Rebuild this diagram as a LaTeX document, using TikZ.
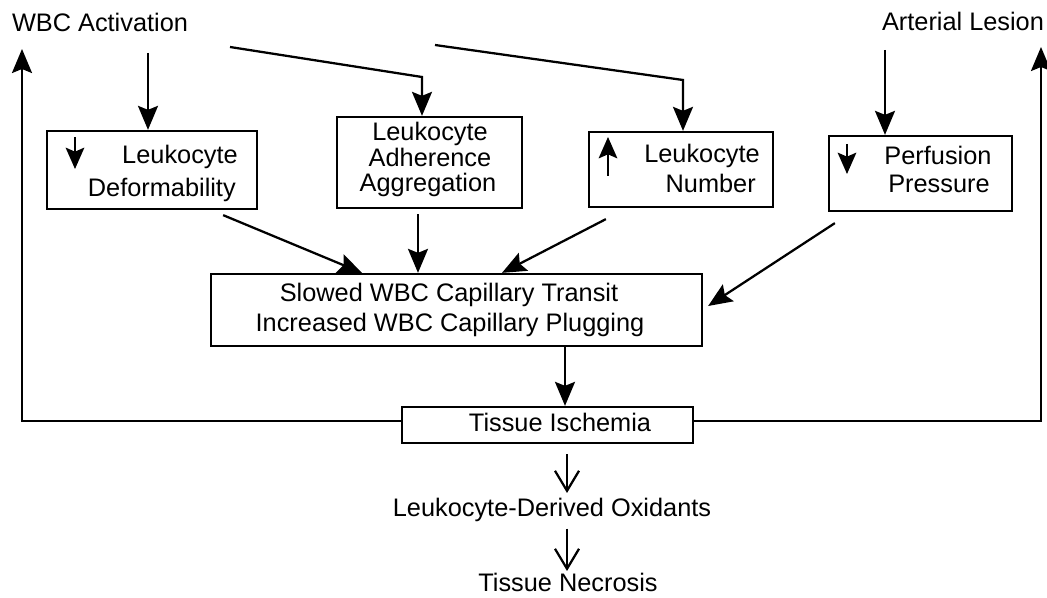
\documentclass[tikz,border=0pt]{standalone}
\usepackage{fontspec}
\setmainfont{Liberation Sans}
\usetikzlibrary{arrows.meta,fit}
\begin{document}
\begin{tikzpicture}[x=0.75pt,y=-0.75pt,
  every node/.style={inner sep=0pt, font=\fontsize{19}{22}\selectfont},
  box/.style={draw, line width=1.7pt, inner sep=0pt},
  lbl/.style={anchor=base},
  arr/.style={line width=1.7pt, -{Stealth[length=18pt,width=15pt,inset=3pt]}},
  glyph/.style={line width=1.4pt, -{Stealth[length=16pt,width=14pt,inset=3pt]}},
  varr/.style={line width=1.7pt, -{Straight Barb[length=15pt,width=18pt,line width=1.7pt]}}
]
\useasboundingbox (0,0) rectangle (1047,598);

% top labels
\node[lbl] (wbc) at (100,32) {WBC Activation};
\node[lbl] (al) at (963,31) {Arterial Lesion};

% boxes
\node[box, fit={(47,131) (257,209)}] (def) {};
\node[box, fit={(337,117) (522,208)}] (adh) {};
\node[box, fit={(589,132) (773,207)}] (num) {};
\node[box, fit={(829,136) (1012,211)}] (perf) {};
\node[box, fit={(211,274) (702,346)}] (main) {};
\node[box, fit={(402,407) (693,443)}] (tis) {};

% box texts
\node[anchor=base east] (def1) at (238,164) {Leukocyte};
\node[anchor=base east] (def2) at (236,197) {Deformability};
\node[lbl] (adh1) at (430,141) {Leukocyte};
\node[lbl] (adh2) at (430,167) {Adherence};
\node[lbl] (adh3) at (428,192) {Aggregation};
\node[anchor=base east] (num1) at (760,163) {Leukocyte};
\node[anchor=base east] (num2) at (756,193) {Number};
\node[lbl] (perf1) at (938,165) {Perfusion};
\node[lbl] (perf2) at (939,193) {Pressure};
\node[lbl] (main1) at (449,302) {Slowed WBC Capillary Transit};
\node[lbl] (main2) at (450,332) {Increased WBC Capillary Plugging};
\node[lbl] (tis1) at (560,432) {Tissue Ischemia};
\node[lbl] (oxid) at (552,517) {Leukocyte-Derived Oxidants};
\node[lbl] (necr) at (568,592) {Tissue Necrosis};

% glyph arrows inside boxes
\draw[glyph] (75,137) -- (75,169);
\draw[glyph] (608,176) -- (608,137);
\draw[glyph] (847,144) -- (847,174);

% coordinates for connector ends
\coordinate (wbcout) at (148,53);
\coordinate (l1s) at (230,47);
\coordinate (l1b) at (422,77);
\coordinate (l2s) at (435,45);
\coordinate (l2b) at (683,80);
\coordinate (alout) at (885,50);
\coordinate (lc) at (22,421);
\coordinate (ltip) at (22,49);
\coordinate (rc) at (1041,421);
\coordinate (rtip) at (1041,47);

% connectors from top
\draw[arr] (wbcout) -- (wbcout |- def.north);
\draw[arr] (l1s) -- (l1b) -- (l1b |- adh.north);
\draw[arr] (l2s) -- (l2b) -- (l2b |- num.north);
\draw[arr] (alout) -- (alout |- perf.north);

% into main box
\draw[arr] ([shift={(-35,5)}]def.south east) -- (362,0 |- main.north);
\draw[arr] ([shift={(-11.5,5)}]adh.south) -- (418,0 |- main.north);
\draw[arr] ([shift={(18,11)}]num.south west) -- (502,0 |- main.north);
\draw[arr] ([shift={(7,11)}]perf.south west) -- ([shift={(5,-4)}]main.east);

% main to tissue
\draw[arr] (565,0 |- main.south) -- (565,0 |- tis.north);

% feedback
\draw[arr] (tis.west |- lc) -- (lc) -- (ltip);
\draw[arr] (tis.east |- rc) -- (rc) -- (rtip);

% bottom chain
\draw[varr] ([shift={(19.5,10)}]tis.south) -- (567,493);
\draw[varr] (567,0 |- oxid.south) ++(0,6) -- (567,571);
\end{tikzpicture}
\end{document}
